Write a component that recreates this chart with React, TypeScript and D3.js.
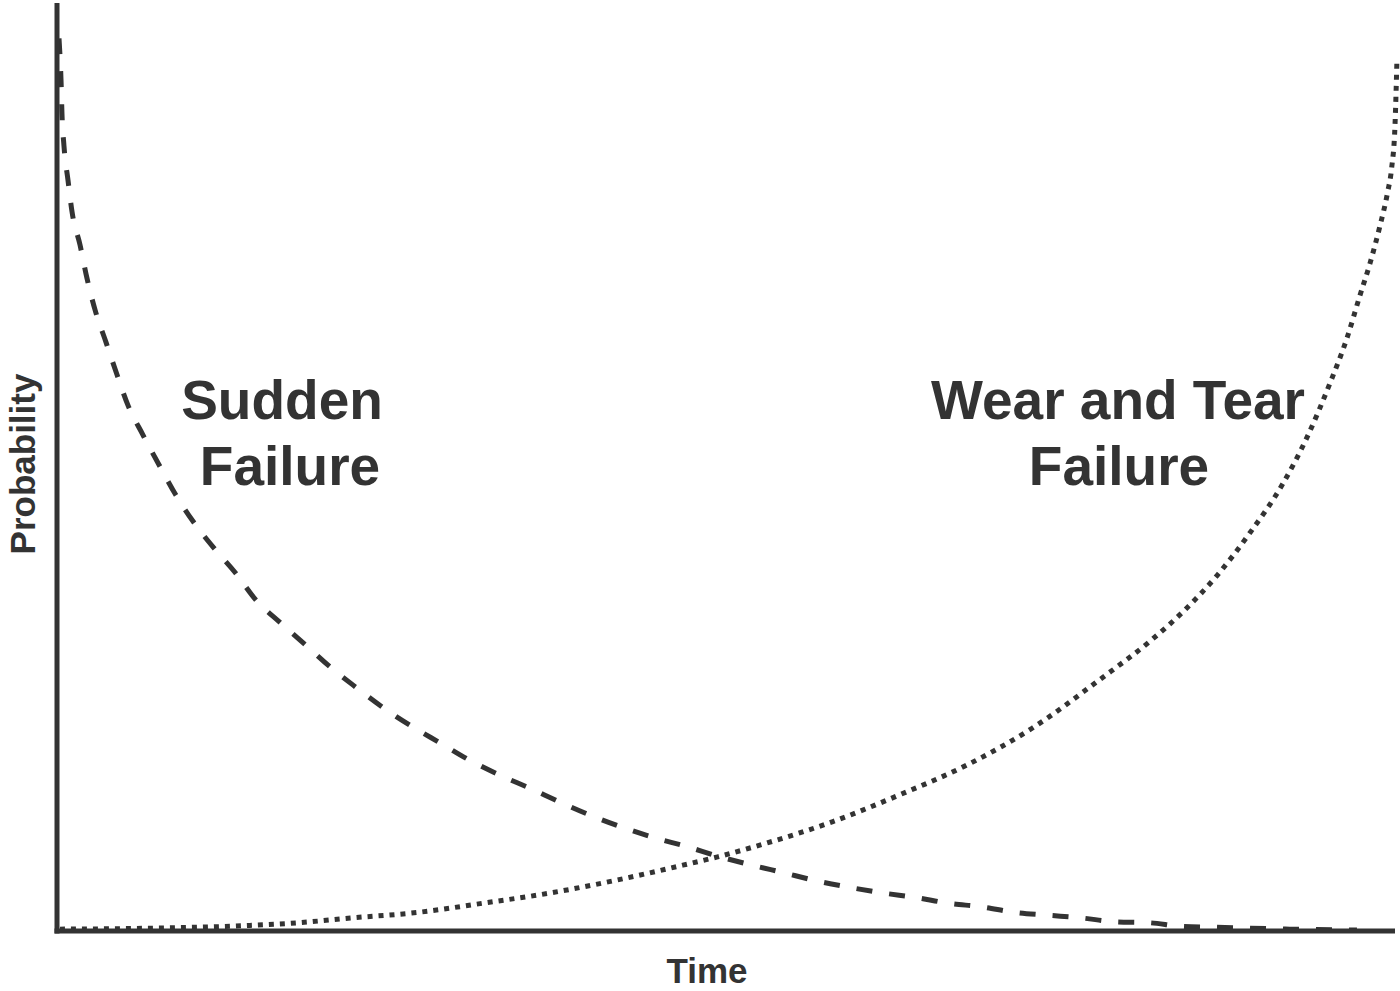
import * as React from 'react'
import { scaleLinear, line, curveMonotoneX } from 'd3'

// time (0-100) and probability (0-100)
const suddenTime = [
  0.15, 0.22, 0.3, 0.37, 0.52, 0.82, 1.12, 1.72, 2.24, 2.84, 3.66, 4.48, 5.3, 6.42, 7.61, 8.88, 10.15, 11.72,
  13.28, 14.85, 16.64, 18.51, 20.37, 22.39, 24.33, 26.57, 28.58, 30.82, 33.06, 35.3, 37.54, 39.78, 42.16, 44.48,
  47.01, 49.25, 51.87, 54.18, 56.72, 59.18, 61.64, 64.18, 66.49, 69.03, 71.49, 73.96, 76.49, 78.96, 81.42, 83.96,
  86.42, 89.03, 92.01, 97.01,
]
const suddenProb = [
  96.3, 94.5, 91.8, 88.2, 84.7, 81.0, 77.6, 74.0, 70.4, 67.0, 63.5, 60.0, 56.7, 53.5, 50.3, 47.0, 44.2, 41.3,
  38.7, 35.7, 33.3, 30.9, 28.5, 26.2, 24.1, 22.0, 20.3, 18.4, 16.8, 15.4, 13.9, 12.5, 11.2, 10.1,
  9.1, 8.1, 7.1, 6.3, 5.4, 4.7, 4.1, 3.6, 3.0, 2.6, 2.0, 1.7, 1.4, 1.0, 0.9, 0.5,
  0.4, 0.3, 0.2, 0.1,
]

const wearTime = [
  0.22, 6.9, 14.4, 18.1, 21.9, 26.9, 31.8, 36.8, 41.8, 46.7, 49.3, 53.0, 57.9, 62.9, 67.9, 72.8, 77.8, 81.6,
  84.0, 86.6, 89.0, 91.5, 93.3, 95.0, 96.3, 97.2, 98.0, 98.7, 99.3, 99.6, 99.85, 100,
]
const wearProb = [
  0.2, 0.3, 0.6, 0.9, 1.4, 2.0, 3.0, 4.1, 5.5, 7.1, 8.0, 9.5, 11.8, 14.7, 17.9, 21.9, 27.1, 31.3,
  34.4, 38.4, 42.9, 48.3, 53.3, 59.1, 64.1, 68.4, 72.1, 75.9, 79.7, 82.3, 86.9, 94.2,
]

const labelLeft = ['Sudden', 'Failure']
const labelRight = ['Wear and Tear', 'Failure']

const width = 1400
const height = 991
const ink = '#333333'
const font = '"Liberation Sans", Arial, sans-serif'

function App() {
  const x = scaleLinear().domain([0, 100]).range([57, 1397])
  const y = scaleLinear().domain([0, 100]).range([931, 4])

  const makeLine = line<[number, number]>()
    .x((d) => x(d[0]))
    .y((d) => y(d[1]))
    .curve(curveMonotoneX)

  const sudden = makeLine(suddenTime.map((t, i) => [t, suddenProb[i]]))
  const wear = makeLine(wearTime.map((t, i) => [t, wearProb[i]]))

  return (
    <svg width={width} height={height} style={{ position: 'absolute', left: 0, top: 0 }}>
      <rect width={width} height={height} fill="#fff" />
      <path d={sudden ?? ''} fill="none" stroke={ink} strokeWidth={5} strokeDasharray="16,17" />
      <path d={wear ?? ''} fill="none" stroke={ink} strokeWidth={5} strokeDasharray="5,6" />

      {/* axes */}
      <line x1={x(0)} x2={x(0)} y1={3} y2={y(0) + 2.5} stroke={ink} strokeWidth={5} />
      <line x1={x(0) - 2.5} x2={1395} y1={y(0)} y2={y(0)} stroke={ink} strokeWidth={5} />

      <g fontFamily={font} fontWeight="bold" fill={ink} fontSize={55} textAnchor="middle">
        <text x={282} y={419}>{labelLeft[0]}</text>
        <text x={290} y={485}>{labelLeft[1]}</text>
        <text x={1118} y={419}>{labelRight[0]}</text>
        <text x={1119} y={485}>{labelRight[1]}</text>
      </g>

      <g fontFamily={font} fontWeight="bold" fill={ink} fontSize={35} textAnchor="middle">
        <text x={707} y={983}>Time</text>
        <text transform="translate(35, 464) rotate(-90)">Probability</text>
      </g>
    </svg>
  )
}

export default App
